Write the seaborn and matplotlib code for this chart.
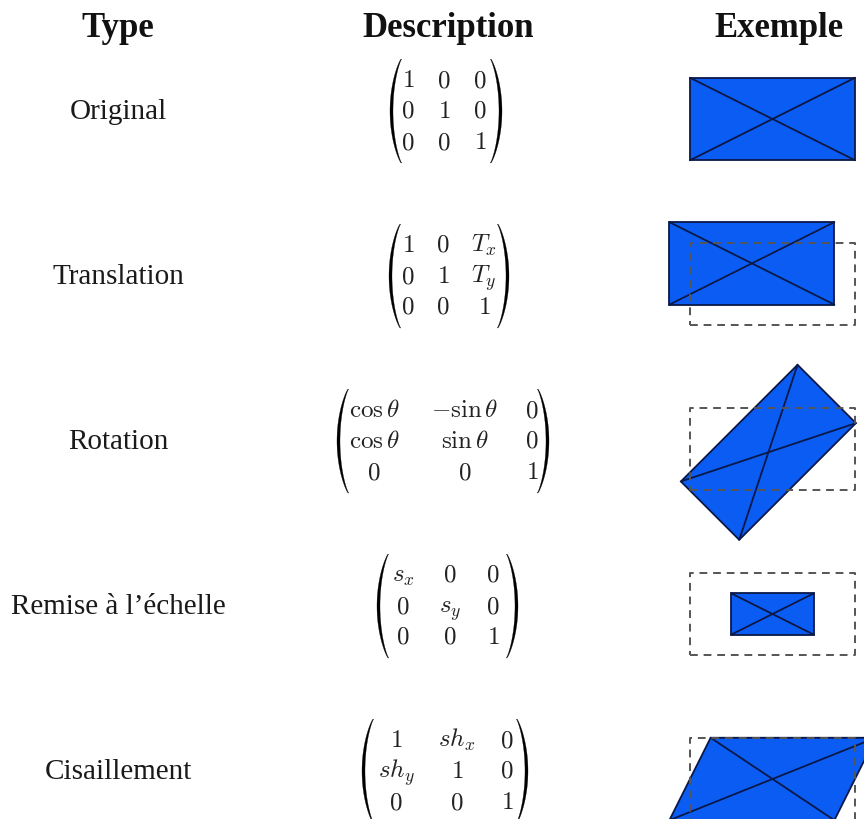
import numpy as np
import matplotlib
matplotlib.use("Agg")
import matplotlib.pyplot as plt
from matplotlib.path import Path
from matplotlib.patches import PathPatch
import seaborn as sns

# ---------------- data ----------------
headers = ["Type", "Description", "Exemple"]
types = ["Original", "Translation", "Rotation", "Remise à l’échelle", "Cisaillement"]

matrices = [
    [["1", "0", "0"], ["0", "1", "0"], ["0", "0", "1"]],
    [["1", "0", "T_x"], ["0", "1", "T_y"], ["0", "0", "1"]],
    [[r"\cos\theta", r"-\sin\theta", "0"], [r"\cos\theta", r"\sin\theta", "0"], ["0", "0", "1"]],
    [["s_x", "0", "0"], ["0", "s_y", "0"], ["0", "0", "1"]],
    [["1", "sh_x", "0"], ["sh_y", "1", "0"], ["0", "0", "1"]],
]

# example rectangle (width 2, height 1) and the transform parameters of each row
rect_corners = [(-1.0, -0.5), (1.0, -0.5), (1.0, 0.5), (-1.0, 0.5)]
translation = (-0.25, 0.25)
rotation_deg = 45.0
rotation_shift = (-0.05, -0.04)
scaling = (0.5, 0.5)
shear_x = 0.5
show_original_outline = [False, True, True, True, True]


def transform_matrices():
    th = np.radians(rotation_deg)
    return [
        np.eye(3),
        np.array([[1, 0, translation[0]], [0, 1, translation[1]], [0, 0, 1]]),
        np.array([[np.cos(th), -np.sin(th), rotation_shift[0]],
                  [np.sin(th), np.cos(th), rotation_shift[1]], [0, 0, 1]]),
        np.array([[scaling[0], 0, 0], [0, scaling[1], 0], [0, 0, 1]]),
        np.array([[1, shear_x, 0], [0, 1, 0], [0, 0, 1]]),
    ]


# ---------------- style / layout ----------------
sns.set_theme(style="white")
plt.rcParams["mathtext.fontset"] = "cm"
plt.rcParams["font.family"] = ["Liberation Serif", "DejaVu Serif"]

FILL = "#0b5cf2"
EDGE = "#0a1848"
DASH = "#555555"

fig = plt.figure(figsize=(8.64, 8.19), dpi=100)
fig.patch.set_facecolor("white")
ax = fig.add_axes([0, 0, 1, 1])
ax.set_facecolor("white")

col_x = [118, 448, 779]
row_y = [110 + 165 * i for i in range(len(types))]

mat_layout = [
    dict(cols=[408, 444, 480], L=390, R=502),
    dict(cols=[408, 443, 484], L=389, R=509),
    dict(cols=[374, 465, 532], L=337, R=549),
    dict(cols=[403, 450, 493], L=377, R=518),
    dict(cols=[396, 457, 507], L=362, R=528),
]


def paren(ax, x, yc, H, left=True, d=11.0, t=3.0):
    """Filled crescent parenthesis; x is the outermost point."""
    s = 1 if left else -1
    top, bot = yc - H / 2, yc + H / 2
    n = 60
    tt = np.linspace(-1, 1, n)
    ys = yc + tt * H / 2
    prof = 1 - tt ** 2                      # 1 in the middle, 0 at the ends
    outer = x + s * d * (1 - prof ** 0.85)
    inner = outer + s * (0.7 + (t - 0.7) * prof)
    verts = list(zip(outer, ys)) + list(zip(inner[::-1], ys[::-1]))
    codes = [Path.MOVETO] + [Path.LINETO] * (len(verts) - 1)
    ax.add_patch(PathPatch(Path(verts, codes), facecolor="black", edgecolor="black",
                           lw=0.2, zorder=3))


# headers
for x, h in zip(col_x, headers):
    ax.text(x, 37, h, ha="center", va="baseline", fontsize=25, fontweight="bold",
            color="#111111")

# labels and matrices
for i, (name, mat, lay) in enumerate(zip(types, matrices, mat_layout)):
    yc = row_y[i]
    ax.text(col_x[0], yc + 9, name, ha="center", va="baseline", fontsize=21,
            color="#1a1a1a")
    for r in range(3):
        for c in range(3):
            ax.text(lay["cols"][c], yc + 8 + 31 * (r - 1), "$" + mat[r][c] + "$",
                    ha="center", va="baseline", fontsize=18, color="#222222")
    paren(ax, lay["L"], yc + 1, 104, left=True)
    paren(ax, lay["R"], yc + 1, 104, left=False)

# examples
K = 82.5
cx = 772.5
base = np.array([[u, v, 1.0] for u, v in rect_corners]).T
for i, M in enumerate(transform_matrices()):
    cy = row_y[i] + 9
    pts = M @ base
    xs = cx + K * pts[0]
    ys = cy - K * pts[1]
    ax.fill(xs, ys, facecolor=FILL, edgecolor=EDGE, lw=1.3, zorder=2, joinstyle="miter")
    ax.plot([xs[0], xs[2]], [ys[0], ys[2]], color=EDGE, lw=1.3, zorder=2.1)
    ax.plot([xs[1], xs[3]], [ys[1], ys[3]], color=EDGE, lw=1.3, zorder=2.1)
    if show_original_outline[i]:
        ox = cx + K * np.array([u for u, v in rect_corners] + [rect_corners[0][0]])
        oy = cy - K * np.array([v for u, v in rect_corners] + [rect_corners[0][1]])
        sns.lineplot(x=ox, y=oy, sort=False, estimator=None, color=DASH, lw=1.4,
                     linestyle=(0, (4, 3)), ax=ax, zorder=4)

ax.set_xlim(0, 864)
ax.set_ylim(819, 0)
ax.axis("off")

fig.savefig("out.png", dpi=100, facecolor="white")
